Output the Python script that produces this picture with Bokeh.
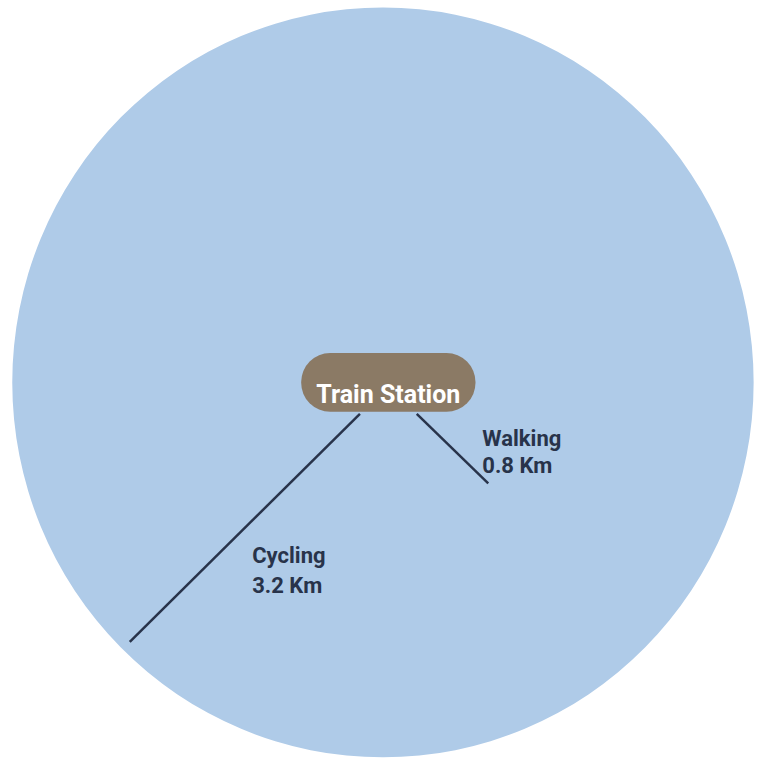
from bokeh.plotting import figure
from bokeh.models import Range1d, ColumnDataSource
from bokeh.core.properties import value
from bokeh.embed import file_html
from bokeh.resources import INLINE

# ---- data ----
station_name = ["Train Station"]
modes = ["Walking", "Cycling"]
distances_km = [0.8, 3.2]
unit = "Km"

# ---- layout (reference-image pixels, y downward) ----
W, H = 760, 758          # figure size in screen pixels
VW, VH = 776, 774        # drawing coordinate space
circle_cx, circle_cy, circle_w, circle_h = 390.5, 390, 757, 766
pill_cx, pill_cy, pill_w, pill_h = 396, 390, 178, 60
leader_x0 = [425, 367]
leader_y0 = [422, 422]
leader_x1 = [498, 132]
leader_y1 = [493, 655]
label_x = [492, 257]
label_y1 = [447, 567]
label_y2 = [475, 597]

FONT = "Roboto"
BLUE = "#AFCBE8"
PILL = "#8B7A65"
INK = "#28334a"

p = figure(width=W, height=H, output_backend="svg", toolbar_location=None,
           x_range=Range1d(0, VW), y_range=Range1d(VH, 0),
           min_border=0, outline_line_color=None)
p.axis.visible = False
p.grid.visible = False
p.background_fill_color = "white"
p.border_fill_color = "white"

p.ellipse(x=[circle_cx], y=[circle_cy], width=[circle_w], height=[circle_h],
          fill_color=BLUE, line_color=None)

src = ColumnDataSource(dict(
    x0=leader_x0, y0=leader_y0, x1=leader_x1, y1=leader_y1,
    lx=label_x, ly1=label_y1, ly2=label_y2,
    mode=modes, dist=[f"{d} {unit}" for d in distances_km]))

p.segment(x0="x0", y0="y0", x1="x1", y1="y1", source=src,
          line_color=INK, line_width=2.5)

p.rect(x=[pill_cx], y=[pill_cy], width=[pill_w], height=[pill_h],
       fill_color=PILL, line_color=None, border_radius=29)
p.text(x=[pill_cx], y=[pill_cy + 12], text=station_name,
       text_font=value(FONT), text_font_style="bold", text_font_size="25px",
       text_color="white", text_align="center", text_baseline="alphabetic")

p.text(x="lx", y="ly1", text="mode", source=src,
       text_font=value(FONT), text_font_style="bold", text_font_size="22px",
       text_color=INK, text_align="left", text_baseline="alphabetic")
p.text(x="lx", y="ly2", text="dist", source=src,
       text_font=value(FONT), text_font_style="bold", text_font_size="22px",
       text_color=INK, text_align="left", text_baseline="alphabetic")

open("out.html", "w").write(file_html(p, INLINE))
